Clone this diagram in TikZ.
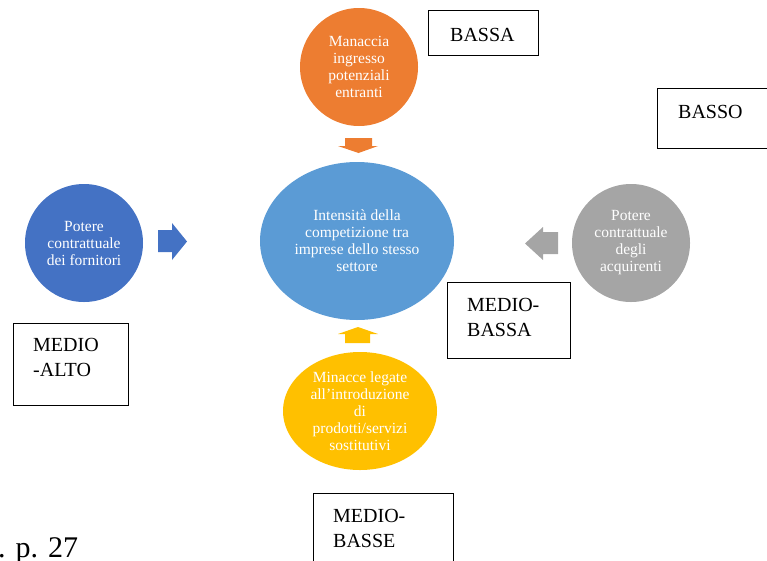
\documentclass[tikz,border=0pt]{standalone}
\usepackage{fontspec}
\setmainfont{Liberation Serif}
\usetikzlibrary{shapes.geometric}

\definecolor{cOrange}{HTML}{ED7D31}
\definecolor{cBlueMid}{HTML}{5B9BD5}
\definecolor{cBlueDark}{HTML}{4472C4}
\definecolor{cGrey}{HTML}{A5A5A5}
\definecolor{cGold}{HTML}{FFC000}

\tikzset{
  force/.style={circle, inner sep=0pt, minimum size=118pt, align=center,
    text=white, font=\fontsize{15.5}{17}\selectfont},
  oval/.style={ellipse, inner sep=0pt, align=center,
    text=white, font=\fontsize{15.5}{17}\selectfont},
  levelbox/.style={draw=black, line width=1.3pt, inner sep=0pt, anchor=north west},
  leveltext/.style={inner sep=0pt, anchor=north west, align=left,
    font=\fontsize{20}{25.5}\selectfont},
}

\begin{document}
\begin{tikzpicture}[x=1pt, y=-1pt]
\path[use as bounding box] (0,0) rectangle (767,560);

% central force
\node[oval, fill=cBlueMid, minimum width=194pt, minimum height=158pt] (rivalry)
  at (357,241) {Intensità della\\competizione tra\\imprese dello stesso\\settore};

% the four surrounding forces
\node[force, fill=cOrange] (entrants) at (359,67)
  {Manaccia\\ingresso\\potenziali\\entranti};
\node[force, fill=cBlueDark] (suppliers) at (84,243)
  {Potere\\contrattuale\\dei fornitori};
\node[force, fill=cGrey] (buyers) at (631,243)
  {Potere\\contrattuale\\degli\\acquirenti};
\node[oval, fill=cGold, minimum width=154pt, minimum height=118pt] (substitutes)
  at (360,411) {Minacce legate\\all\char"0027 introduzione\\di\\prodotti/servizi\\sostitutivi};

% block arrows pointing to the centre
\fill[cOrange] (345,138) -- (372,138) -- (372,146) -- (378,146) -- (358.5,153)
  -- (338,146) -- (345,146) -- cycle;
\fill[cGold] (345,343) -- (370,343) -- (370,334) -- (378,334) -- (358,327)
  -- (338,334) -- (345,334) -- cycle;
\fill[cBlueDark] (158,230) -- (172,230) -- (172,223) -- (187,241.5) -- (172,260)
  -- (172,252) -- (158,252) -- cycle;
\fill[cGrey] (558,232) -- (543,232) -- (543,227) -- (525,243.5) -- (543,260)
  -- (543,254) -- (558,254) -- cycle;

% level boxes
\node[levelbox, minimum width=110pt, minimum height=45pt] (boxEntrants) at (428,10) {};
\node[leveltext] (txtEntrants) at (450,28) {BASSA};

\node[levelbox, minimum width=112pt, minimum height=60pt] (boxBuyersTop) at (657,88) {};
\node[leveltext] (txtBuyersTop) at (678,105) {BASSO};

\node[levelbox, minimum width=123pt, minimum height=76pt] (boxBuyers) at (447,282) {};
\node[leveltext] (txtBuyers) at (467,298) {MEDIO-\\BASSA};

\node[levelbox, minimum width=115pt, minimum height=82pt] (boxSuppliers) at (13,323) {};
\node[leveltext] (txtSuppliers) at (33,338) {MEDIO\\-ALTO};

\node[levelbox, minimum width=140pt, minimum height=90pt] (boxSubstitutes) at (313,493) {};
\node[leveltext] (txtSubstitutes) at (333,509) {MEDIO-\\BASSE};

% source reference
\node[inner sep=0pt, anchor=base west, font=\fontsize{30}{34}\selectfont] (source)
  at (-2,557) {. p. 27};
\end{tikzpicture}
\end{document}
